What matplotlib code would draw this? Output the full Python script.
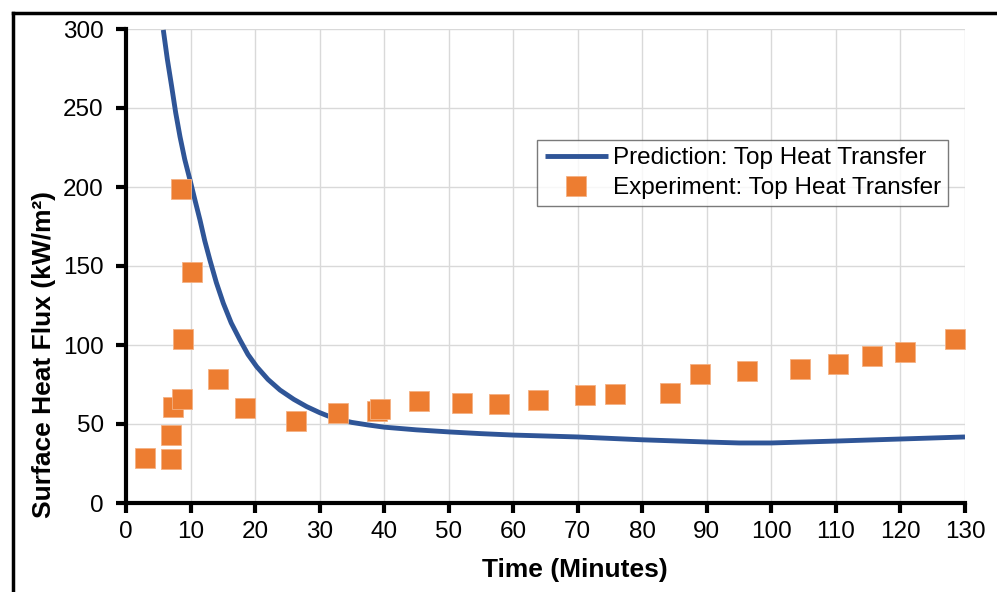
import matplotlib.pyplot as plt
from matplotlib.lines import Line2D

plt.rcParams['font.family'] = ['Liberation Sans', 'DejaVu Sans']

# predicted surface heat flux (model curve)
pred_t = [5.78, 6.4, 7.08, 7.7, 8.37, 9.1, 9.92, 10.7, 11.47, 12.2, 13.0, 14.0, 15.08, 16.3, 17.66, 18.9,
          20.25, 22.0, 23.86, 26.0, 28.0, 30.0, 31.6, 33.5, 35, 37.5, 40, 45, 50, 55, 60,
          70, 80, 90, 95, 100, 110, 120, 130]
pred_q = [299.4, 281, 263.5, 247, 231.8, 217.5, 204.4, 191.5, 179, 166, 153.8, 139.5, 126.4, 114, 103.2, 94,
          86.3, 78.2, 71.5, 65.6, 61, 57.2, 54.6, 52.4, 51, 49.4, 48, 46.3, 45, 43.9, 43,
          41.8, 40, 38.6, 38, 38, 39.2, 40.5, 41.8]

# measured surface heat flux
exp_t = [2.9, 7.0, 7.0, 7.3, 8.7, 8.5, 8.8, 10.2, 14.3, 18.4, 26.3, 32.8, 38.9, 39.4, 45.4, 52.1, 57.8,
         63.8, 71.1, 75.8, 84.3, 88.9, 96.2, 104.4, 110.3, 115.6, 120.7, 128.4]
exp_q = [28.5, 27.8, 43, 60.8, 65.8, 199, 104, 146, 78.5, 60, 52, 57, 58, 59.5, 64.5, 63.3, 62.7,
         65.2, 68.4, 69, 69.6, 81.6, 83.5, 84.8, 88, 93, 95.6, 103.8]

W, H = 997, 592
fig = plt.figure(figsize=(W / 100, H / 100), dpi=100)
ax = fig.add_axes([126 / W, 89 / H, 839 / W, 474 / H])

ax.plot(pred_t, pred_q, color='#2F5597', lw=3.5, label='Prediction: Top Heat Transfer', zorder=3,
        solid_capstyle='butt', solid_joinstyle='round')
ax.plot(exp_t, exp_q, ls='none', marker='s', ms=14.5, color='#ED7D31', mec='#F4B183', mew=0.6,
        label='Experiment: Top Heat Transfer', zorder=4)

ax.set_xlim(0, 130)
ax.set_ylim(0, 300)
ax.set_xticks(range(0, 131, 10))
ax.set_yticks(range(0, 301, 50))
ax.grid(True, color='#D9D9D9', lw=1)
ax.set_axisbelow(True)
for s in ['top', 'right']:
    ax.spines[s].set_visible(False)
for s in ['left', 'bottom']:
    ax.spines[s].set_linewidth(3)
ax.tick_params(direction='out', length=7, width=3, labelsize=17.5)
ax.tick_params(axis='y', pad=9)
ax.tick_params(axis='x', pad=6)

fig.text(575 / W, 1 - 570 / H, 'Time (Minutes)', fontsize=19, fontweight='bold', ha='center', va='center')
fig.text(44 / W, 1 - 355 / H, 'Surface Heat Flux (kW/m²)', fontsize=19, fontweight='bold',
         ha='center', va='center', rotation=90)

leg = ax.legend(loc='upper right', bbox_to_anchor=((948 - 126) / 839, (503 - 140) / 474), fontsize=17.5,
                frameon=True, fancybox=False, edgecolor='#595959', handlelength=2.6, borderpad=0.3,
                labelspacing=0.32, handletextpad=0.2, borderaxespad=0)
leg.get_frame().set_linewidth(1)

# outer frame lines along the left and top of the figure
fig.add_artist(Line2D([13 / W, 13 / W], [0, 1 - 13 / H], transform=fig.transFigure, color='black', lw=2.5))
fig.add_artist(Line2D([13 / W, 1], [1 - 13 / H, 1 - 13 / H], transform=fig.transFigure, color='black', lw=2.5))

fig.savefig('out.png', dpi=100)
